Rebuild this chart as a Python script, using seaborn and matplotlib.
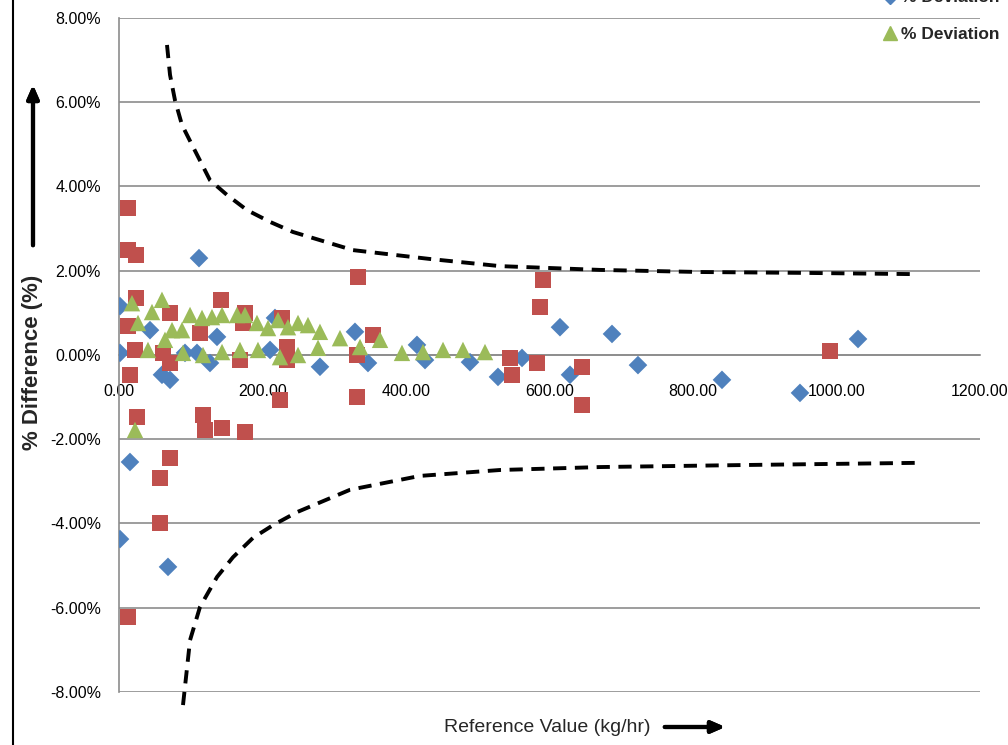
import matplotlib
matplotlib.use("Agg")
import matplotlib.pyplot as plt
from matplotlib.lines import Line2D
from matplotlib.ticker import FuncFormatter
import seaborn as sns
import numpy as np
import pandas as pd

# blue diamonds
blue_x = [1.4, 1.4, 1.4, 15.3, 43.2, 59.9, 71.1, 68.3, 92.0, 108.7, 126.8, 136.6, 111.5,
          210.5, 217.4, 280.1, 328.9, 347.0, 415.3, 426.5, 489.2, 528.2, 561.7, 614.6,
          628.6, 687.1, 723.3, 840.4, 949.1, 1030.0]
blue_y = [1.16, 0.05, -4.37, -2.54, 0.59, -0.47, -0.59, -5.03, 0.05, 0.05, -0.19, 0.43, 2.30,
          0.12, 0.88, -0.28, 0.55, -0.19, 0.24, -0.12, -0.17, -0.52, -0.07, 0.66,
          -0.47, 0.50, -0.24, -0.59, -0.90, 0.38]

# red squares
red_x = [12.5, 12.5, 23.7, 23.7, 12.5, 22.3, 15.3, 25.1, 71.1, 57.1, 57.1, 12.5, 61.3, 71.1,
         71.1, 112.9, 117.1, 119.9, 143.6, 142.2, 175.6, 172.8, 168.6, 175.6, 224.4, 227.2,
         234.1, 234.1, 333.1, 331.7, 354.0, 331.7, 545.0, 547.7, 582.6, 586.8, 591.0,
         645.3, 645.3, 991.0]
red_y = [3.49, 2.49, 2.37, 1.35, 0.69, 0.12, -0.47, -1.47, -2.45, -2.92, -3.99, -6.22, 0.05, -0.19,
         1.00, 0.52, -1.42, -1.78, -1.73, 1.31, 1.00, 0.76, -0.12, -1.83, -1.07, 0.88,
         0.19, -0.12, 1.85, 0.00, 0.47, -1.00, -0.07, -0.47, -0.19, 1.14, 1.78,
         -0.28, -1.19, 0.10]

# green triangles
green_x = [18.1, 26.5, 46.0, 59.9, 40.4, 22.3, 64.1, 73.9, 87.8, 99.0, 115.7, 129.6, 143.6,
           89.2, 117.1, 143.6, 164.5, 175.6, 192.3, 207.7, 221.6, 235.5, 249.5, 263.4,
           280.1, 308.0, 168.6, 193.7, 224.4, 249.5, 277.4, 335.9, 363.8, 394.4, 423.7,
           451.6, 479.4, 510.1]
green_y = [1.23, 0.76, 1.02, 1.31, 0.12, -1.78, 0.36, 0.59, 0.59, 0.95, 0.88, 0.90, 0.95,
           0.05, 0.00, 0.07, 0.95, 0.95, 0.76, 0.64, 0.83, 0.66, 0.76, 0.71,
           0.55, 0.40, 0.12, 0.12, -0.05, 0.00, 0.17, 0.19, 0.36, 0.05, 0.07,
           0.12, 0.12, 0.07]

# dashed limit curves
upper_x = [66.9, 71.1, 78.0, 87.8, 101.7, 126.8, 150.5, 178.4, 210.5, 242.5, 326.0, 433.0,
           531.0, 670.0, 810.0, 949.0, 1109.0]
upper_y = [7.36, 6.65, 6.05, 5.46, 4.99, 4.15, 3.80, 3.44, 3.16, 2.92, 2.49, 2.28,
           2.11, 2.02, 1.97, 1.95, 1.92]
lower_x = [89.2, 99.0, 112.9, 136.6, 158.9, 186.8, 214.6, 248.1, 321.9, 419.5, 531.0,
           670.4, 879.4, 1113.6]
lower_y = [-8.31, -6.77, -5.98, -5.27, -4.80, -4.34, -4.04, -3.73, -3.20, -2.87, -2.73,
           -2.66, -2.61, -2.56]

y_ticks = [-8, -6, -4, -2, 0, 2, 4, 6, 8]
x_ticks = [0, 200, 400, 600, 800, 1000, 1200]

sns.set_style("white")
plt.rcParams['font.family'] = ['Liberation Sans', 'DejaVu Sans']

fig = plt.figure(figsize=(10.08, 7.45), dpi=100)
ax = fig.add_axes([119/1008, 1 - 692/745, (980-119)/1008, (692-18)/745])

blue = "#4F81BD"
red = "#C0504D"
green = "#9BBB59"

sns.scatterplot(x=blue_x, y=blue_y, marker="D", s=90, color=blue, edgecolor="none", ax=ax, zorder=3)
sns.scatterplot(x=red_x, y=red_y, marker="s", s=130, color=red, edgecolor="none", ax=ax, zorder=4)
sns.scatterplot(x=green_x, y=green_y, marker="^", s=140, color=green, edgecolor="none", ax=ax, zorder=5)

up = pd.DataFrame({"x": upper_x, "y": upper_y})
lo = pd.DataFrame({"x": lower_x, "y": lower_y})
for d in (up, lo):
    sns.lineplot(data=d, x="x", y="y", sort=False, color="black", lw=2.8, ax=ax, zorder=6)
for l in ax.lines:
    l.set_dashes((3.4, 2.2))
    l.set_clip_on(False)

ax.set_xlim(0, 1200)
ax.set_ylim(-8, 8)
ax.set_yticks(y_ticks)
ax.set_xticks(x_ticks)
ax.yaxis.set_major_formatter(FuncFormatter(lambda v, p: f"{v:.2f}%"))
ax.xaxis.set_major_formatter(FuncFormatter(lambda v, p: f"{v:.2f}"))
ax.grid(axis="y", color="#8c8c8c", lw=1.2)
ax.set_axisbelow(True)
for s in ("top", "right"):
    ax.spines[s].set_visible(False)
ax.spines["left"].set_color("#8c8c8c")
ax.spines["left"].set_linewidth(1.2)
ax.spines["bottom"].set_position(("data", 0))
ax.spines["bottom"].set_color("#8c8c8c")
ax.spines["bottom"].set_linewidth(1.2)
ax.tick_params(axis="both", direction="out", length=7, width=1.2, color="#8c8c8c",
               labelsize=11.5, labelcolor="black")
ax.tick_params(axis="x", pad=14)
ax.tick_params(axis="y", pad=6)
ax.set_xlabel("")
ax.set_ylabel("")

# axis titles with arrows
fig.text(33/1008, 1 - 362/745, "% Difference (%)", rotation=90, ha="center", va="center",
         fontsize=16, fontweight="bold")
fig.add_artist(plt.annotate("", xy=(33/1008, 1 - 82/745), xytext=(33/1008, 1 - 248/745),
                            xycoords="figure fraction", textcoords="figure fraction",
                            arrowprops=dict(arrowstyle="-|>,head_width=0.35,head_length=0.8",
                                            lw=3, color="black")))
fig.text(547/1008, 1 - 727/745, "Reference Value (kg/hr)", ha="center", va="center",
         fontsize=14)
fig.add_artist(plt.annotate("", xy=(728/1008, 1 - 727/745), xytext=(662/1008, 1 - 727/745),
                            xycoords="figure fraction", textcoords="figure fraction",
                            arrowprops=dict(arrowstyle="-|>,head_width=0.35,head_length=0.8",
                                            lw=3, color="black")))

# legend (partly cut at the top like the original)
handles = [Line2D([], [], marker="D", color=blue, ls="none", markersize=8),
           Line2D([], [], marker="^", color=green, ls="none", markersize=10)]
fig.legend(handles, ["% Deviation", "% Deviation"], loc="upper left",
           bbox_to_anchor=(866/1008, 1 + 26/745), frameon=False, handletextpad=0.1,
           labelspacing=1.25, handlelength=1.0,
           prop={"size": 12.5, "weight": "bold"})

# left border line
fig.add_artist(Line2D([13/1008, 13/1008], [0, 1], color="black", lw=1.5, transform=fig.transFigure))

fig.savefig("out.png", dpi=100)
